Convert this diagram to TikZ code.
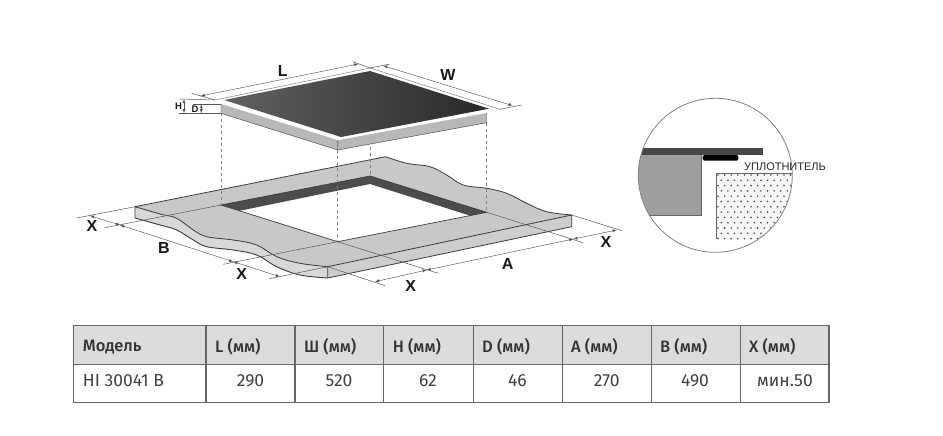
\documentclass[tikz,border=0pt]{standalone}
\usepackage{fontspec}
\setmainfont{Fira Sans}[BoldFont={Fira Sans Medium}]
\newfontfamily\dimfont{Liberation Sans}
\usetikzlibrary{calc, arrows, positioning}

\definecolor{edgegray}{HTML}{3A3A3A}
\definecolor{linegray}{HTML}{555555}
\definecolor{topgray}{HTML}{C8C8C8}
\definecolor{sidegray}{HTML}{B8B8B8}
\definecolor{bandgray}{HTML}{4C4C4C}
\definecolor{headgray}{HTML}{DCDCDE}
\definecolor{gridgray}{HTML}{666666}

\tikzset{
    dimline/.style={<->, linegray, line width=0.45pt},
    extline/.style={linegray, line width=0.5pt},
    hidden/.style={gray, dashed, line width=0.6pt},
    dimlabel/.style={font=\dimfont\bfseries\fontsize{16}{16}\selectfont, text=black!90, inner sep=0pt},
    smalllabel/.style={font=\dimfont\bfseries\fontsize{9.5}{9.5}\selectfont, text=black!90, inner sep=0pt},
    headcell/.style={font=\fontsize{16.5}{16.5}\selectfont\bfseries, text=black!80, inner sep=0pt, anchor=west},
    valcell/.style={font=\fontsize{17.5}{17.5}\selectfont, text=black!75, inner sep=0pt},
}

\begin{document}
\begin{tikzpicture}[>=latex, x=1pt, y=-1pt]
    \useasboundingbox (0,0) rectangle (943,436);

    % countertop
    \coordinate (topL) at (135,206.7);
    \coordinate (topB) at (385.7,156.7);
    \coordinate (topR) at (571.7,215);
    \coordinate (topF) at (327.7,266.7);
    \coordinate (lowL) at (135,218);
    \coordinate (lowR) at (571.7,226.7);
    \coordinate (lowF) at (327.7,278);
    \coordinate (cutL) at (221,205);
    \coordinate (cutB) at (370,176);
    \coordinate (cutR) at (486.7,212.3);
    \coordinate (cutF) at (337.7,241.7);

    \fill[topgray!70] (topL) -- plot[smooth, tension=0.6] coordinates {(135,206.7) (160,214) (176.7,218.3) (193.3,230) (206.7,236.7) (233.3,240) (256.7,245) (276.7,256.7) (300,263.3) (327.7,266.7)}
        -- (lowF) -- plot[smooth, tension=0.6] coordinates {(327.7,278) (300,275) (276.7,266.7) (256.7,255) (233.3,250) (206.7,246.7) (193.3,240) (176.7,230) (160,225) (135,218)} -- cycle;
    \fill[topgray] (topL) -- (topB) -- plot[smooth, tension=0.6] coordinates {(385.7,156.7) (406.7,163.3) (430,166.7) (446.7,175) (463.3,185) (486.7,188.3) (506.7,193.3) (526.7,203.3) (546.7,211.7) (571.7,215)}
        -- (topF) -- plot[smooth, tension=0.6] coordinates {(327.7,266.7) (300,263.3) (276.7,256.7) (256.7,245) (233.3,240) (206.7,236.7) (193.3,230) (176.7,218.3) (160,214) (135,206.7)} -- cycle;
    \fill[sidegray!70] (topF) -- (topR) -- (lowR) -- (lowF) -- cycle;

    \draw[edgegray, line width=0.8pt] plot[smooth, tension=0.6] coordinates {(135,206.7) (160,214) (176.7,218.3) (193.3,230) (206.7,236.7) (233.3,240) (256.7,245) (276.7,256.7) (300,263.3) (327.7,266.7)};
    \draw[edgegray, line width=0.9pt] plot[smooth, tension=0.6] coordinates {(135,218) (160,225) (176.7,230) (193.3,240) (206.7,246.7) (233.3,250) (256.7,255) (276.7,266.7) (300,275) (327.7,278)};
    \draw[edgegray, line width=0.8pt] plot[smooth, tension=0.6] coordinates {(385.7,156.7) (406.7,163.3) (430,166.7) (446.7,175) (463.3,185) (486.7,188.3) (506.7,193.3) (526.7,203.3) (546.7,211.7) (571.7,215)};
    \draw[edgegray, line width=0.8pt] (topB) -- (topL) -- (lowL);
    \draw[edgegray, line width=0.8pt] (topF) -- (topR) -- (lowR) -- (lowF) -- (topF);

    % cut-out
    \fill[white] (cutL) -- (cutB) -- (cutR) -- (cutF) -- cycle;
    \fill[bandgray] (cutL) -- (cutB) -- (cutR) -- (470,215.6) -- (370,184) -- (240,210.7) -- cycle;
    \draw[edgegray, line width=0.7pt] (cutL) -- (cutB) -- (cutR) -- (cutF) -- cycle;

    % hob
    \coordinate (hobL) at (215,100);
    \coordinate (hobB) at (370,68);
    \coordinate (hobR) at (500,109.3);
    \coordinate (hobF) at (338,140);
    \coordinate (sideL) at (221,104);
    \coordinate (sideLlow) at (221,113.3);
    \coordinate (sideF) at (337.7,150);
    \coordinate (sideRup) at (486.7,113);
    \coordinate (sideR) at (486.7,122.7);

    \fill[sidegray] (sideL) -- (hobF) -- (sideRup) -- (sideR) -- (sideF) -- (sideLlow) -- cycle;
    \draw[edgegray, line width=0.4pt] (sideL) -- (sideLlow) -- (sideF) -- (sideR) -- (sideRup);
    \draw[edgegray, line width=0.4pt] (hobF |- 139,139) -- (sideF);
    \fill[white] (hobL) -- (hobB) -- (hobR) -- (hobF) -- cycle;
    \draw[gray, line width=0.5pt] (hobL) -- (hobB) -- (hobR);
    \shade[left color=black!62, right color=black!84] (224,100) -- (370,71) -- (489,108.7) -- (341,137) -- cycle;

    % hidden edges
    \draw[hidden] (sideLlow) -- (cutL);
    \draw[hidden] (sideF) -- (cutF);
    \draw[hidden] (370,146.7) coordinate (hidB) -- (cutB);
    \draw[hidden] (sideR) -- (cutR);

    % extension lines
    \draw[extline] (hobL) -- (191.7,93.3) coordinate (extLa);
    \draw[extline] (hobB) -- (353,61.7) coordinate (extLb);
    \draw[extline] (hobB) -- (390,64) coordinate (extWa);
    \draw[extline] (hobR) -- (521.7,105) coordinate (extWb);
    \draw[extline] (hobL) -- (179.3,99) coordinate (extHa);
    \draw[extline] (sideL) -- (193,104) coordinate (extDa);
    \draw[extline] (sideLlow) -- (179.3,113.3) coordinate (extHb);
    \draw[extline] (topL) -- (76.7,218) coordinate (extXa);
    \draw[extline] (cutL) -- (105,227.7) coordinate (extXb);
    \draw[extline] (cutF) -- (223.3,264.3) coordinate (extXc);
    \draw[extline] (topF) -- (269.3,278.7) coordinate (extXd);
    \draw[extline] (topF) -- (385,285.7) coordinate (extXe);
    \draw[extline] (cutF) -- (438.3,273.3) coordinate (extXf);
    \draw[extline] (cutR) -- (583.3,242.7) coordinate (extXg);
    \draw[extline] (topR) -- (621.7,230.7) coordinate (extXh);

    % dimensions
    \draw[dimline] (200.7,96) coordinate (dimLa) -- (358.3,64) coordinate (dimLb);
    \draw[dimline] (383.3,65.7) coordinate (dimWa) -- (512.7,105.7) coordinate (dimWb);
    \draw[dimline] (184,99) coordinate (dimHa) -- (184,113.3) coordinate (dimHb);
    \draw[dimline] (201.3,104) coordinate (dimDa) -- (201.3,113.3) coordinate (dimDb);

    \coordinate (frA) at (90,215.7);
    \coordinate (frB) at (120,225);
    \coordinate (frC) at (233.3,261.7);
    \coordinate (frD) at (280,276.7);
    \coordinate (riA) at (375,281.7);
    \coordinate (riB) at (426.7,270);
    \coordinate (riC) at (573.3,239);
    \coordinate (riD) at (616.7,230);
    \draw[dimline] (frA) -- (frB);
    \draw[dimline] (frB) -- (frC);
    \draw[dimline] (frC) -- (frD);
    \draw[dimline] (riA) -- (riB);
    \draw[dimline] (riB) -- (riC);
    \draw[dimline] (riC) -- (riD);

    \node[dimlabel] (lab-L) at (282.7,71) {L};
    \node[dimlabel] (lab-W) at (448,75) {W};
    \node[smalllabel] (lab-H) at (178.5,106) {H};
    \node[smalllabel] (lab-D) at (195,109) {D};
    \node[dimlabel] (lab-X1) at (92,226) {X};
    \node[dimlabel] (lab-B) at (164,248) {B};
    \node[dimlabel] (lab-X2) at (241.7,274) {X};
    \node[dimlabel] (lab-A) at (507.7,264) {A};
    \node[dimlabel] (lab-X3) at (410.7,285.7) {X};
    \node[dimlabel] (lab-X4) at (606,241.7) {X};

    % detail circle
    \coordinate (det) at (715.3,175.3);
    \begin{scope}
        \clip (det) circle (77);
        \fill[black!38] (630,155) rectangle (701.7,215);
        \draw[gridgray, line width=0.7pt] (630,215) -- (701.7,215) -- (701.7,155);
        \fill[black!72] (630,147.7) rectangle (763.3,155);
        \fill[black!3] (716.7,173.3) rectangle (800,239);
        \foreach \r in {0,...,12} {
            \foreach \c in {0,...,12} {
                \fill[black!70] ({718+\c*6.6+mod(\r,2)*3.3},{175+\r*5.3}) circle (0.9);
            };
        };
        \draw[gridgray, line width=0.5pt] (716.7,239) -- (716.7,173.3) -- (800,173.3);
    \end{scope}
    \draw[gray, line width=0.8pt] (det) circle (77);
    \fill[black, rounded corners=2pt] (702.7,155) rectangle (738.3,160.7);
    \node[font=\dimfont\fontsize{11}{11}\selectfont, text=black!85, inner sep=0pt] (seal) at (785,166.7) {УПЛОТНИТЕЛЬ};

    % table
    \fill[headgray] (73.3,325.7) rectangle (829,364.3);
    \draw[gridgray, line width=1.3pt] (73.3,325.7) rectangle (829,402.7);
    \draw[gridgray, line width=1.3pt] (73.3,364.3) -- (829,364.3);
    \foreach \x in {206,295,383.7,473.3,562.3,651.3,740.3} {
        \draw[gridgray, line width=1.3pt] (\x,325.7) -- (\x,402.7);
    };
    \foreach \x/\name/\txt in {82.7/model/Модель, 215/l/L (мм), 304/w/Ш (мм), 392.7/h/H (мм), 482/d/D (мм), 571/a/A (мм), 660/b/B (мм), 749/x/X (мм)} {
        \node[headcell] (head-\name) at (\x,346.7) {\txt};
    };
    \node[valcell, anchor=west] (val-model) at (82.7,380.7) {HI 30041 B};
    \foreach \x/\name/\txt in {250.5/l/290, 339/w/520, 428/h/62, 517.5/d/46, 606.7/a/270, 695/b/490, 785/x/мин.50} {
        \node[valcell] (val-\name) at (\x,380.7) {\txt};
    };
\end{tikzpicture}
\end{document}
